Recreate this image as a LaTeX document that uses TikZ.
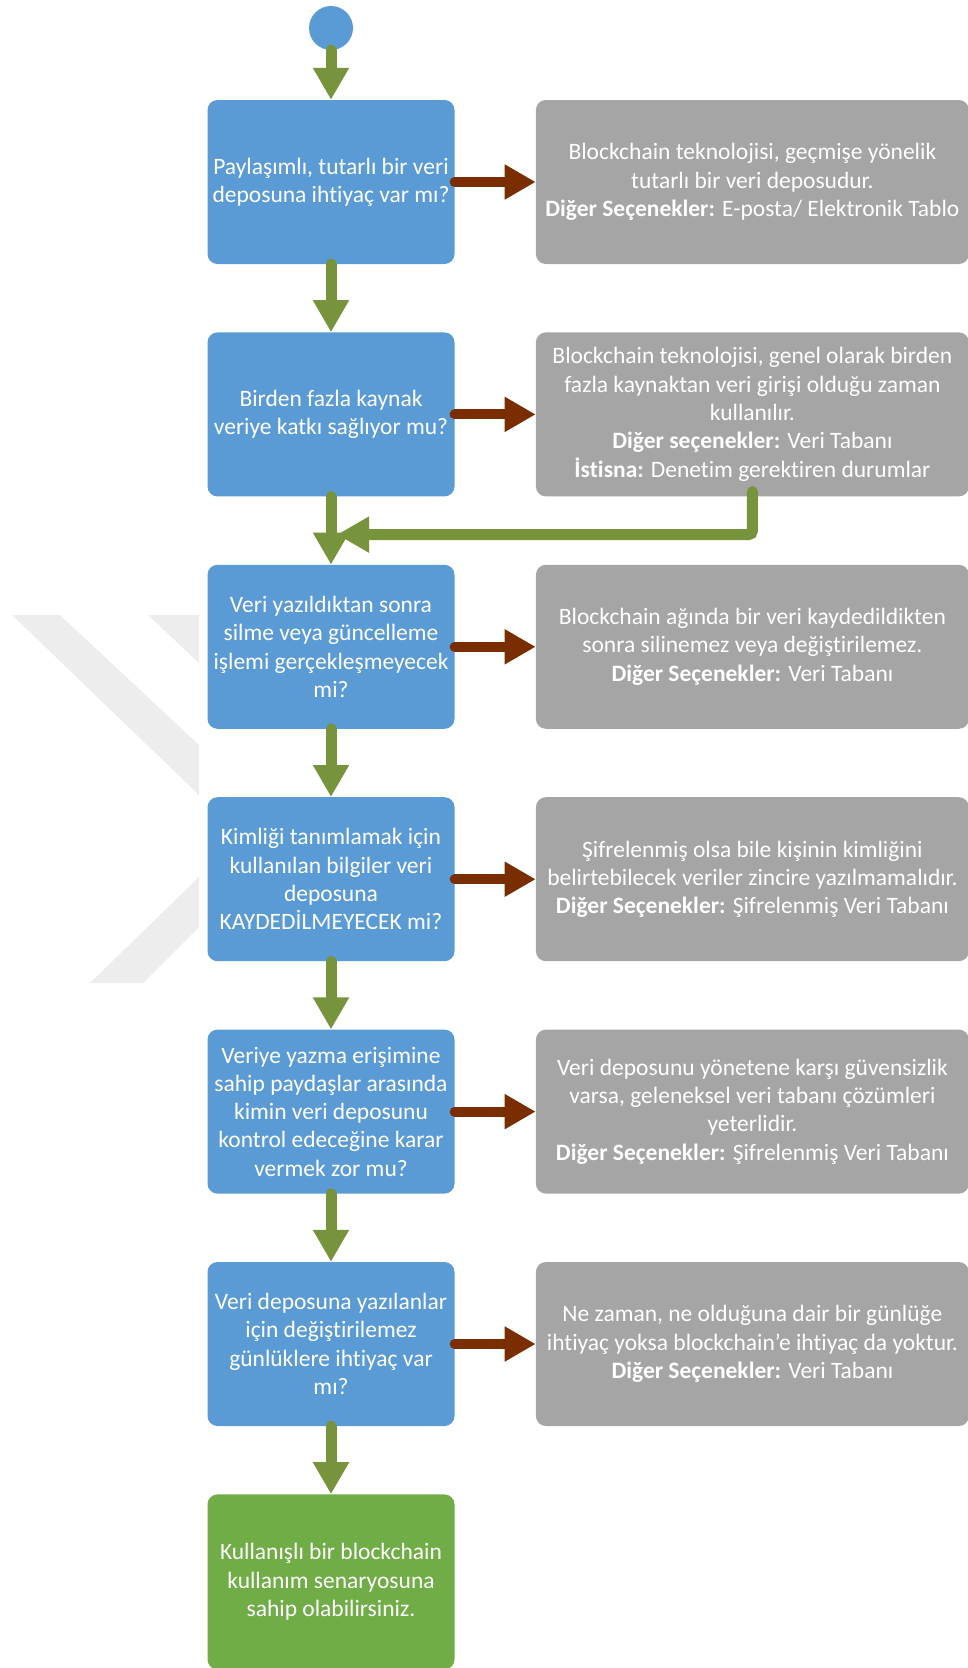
\documentclass[tikz,border=0pt]{standalone}
\usepackage{fontspec}
\setmainfont{Carlito}[Ligatures=NoCommon]
\usetikzlibrary{positioning,arrows.meta}

\definecolor{qblue}{HTML}{5B9BD5}
\definecolor{agray}{HTML}{A5A5A5}
\definecolor{okgreen}{HTML}{70AD47}
\definecolor{arrgreen}{HTML}{77933C}
\definecolor{arrbrown}{HTML}{7A2E00}

\begin{document}
\begin{tikzpicture}[x=1pt,y=1pt,
  node distance=68pt and 81pt,
  every node/.style={font=\fontsize{23.5pt}{28.3pt}\selectfont, text=white, align=center},
  question/.style={fill=qblue, rounded corners=10pt, minimum width=247pt, minimum height=164pt, inner sep=1pt},
  answer/.style={fill=agray, rounded corners=10pt, minimum width=433pt, minimum height=164pt, inner sep=1pt},
  finish/.style={question, fill=okgreen, minimum height=175pt},
  yesarrow/.style={line width=11pt, draw=arrgreen, line cap=round, -{Triangle[length=32pt,width=34pt]}},
  noarrow/.style={line width=10pt, draw=arrbrown, line cap=round, -{Triangle[length=31pt,width=33pt]}},
  wmark/.style={fill=black!7}]
\useasboundingbox (0,0) rectangle (968,-1668);

% watermark
\fill[wmark] (12,-615) -- (60,-615) -- (199,-745) -- (199,-795) -- cycle;
\fill[wmark] (148,-615) -- (199,-615) -- (199,-663) -- cycle;
\fill[wmark] (199,-877) -- (90,-983) -- (143,-983) -- (199,-927) -- cycle;

\node[circle, fill=qblue, minimum size=44pt, inner sep=0pt] (start) at (331,-28) {};

\node[question] (q1) at (331,-182) {Paylaşımlı, tutarlı bir veri\\deposuna ihtiyaç var mı?};
\node[question, below=of q1] (q2) {Birden fazla kaynak\\veriye katkı sağlıyor mu?};
\node[question, below=of q2] (q3) {Veri yazıldıktan sonra\\silme veya güncelleme\\işlemi gerçekleşmeyecek\\mi?};
\node[question, below=of q3] (q4) {Kimliği tanımlamak için\\kullanılan bilgiler veri\\deposuna\\KAYDEDİLMEYECEK mi?};
\node[question, below=of q4] (q5) {Veriye yazma erişimine\\sahip paydaşlar arasında\\kimin veri deposunu\\kontrol edeceğine karar\\vermek zor mu?};
\node[question, below=of q5] (q6) {Veri deposuna yazılanlar\\için değiştirilemez\\günlüklere ihtiyaç var\\mı?};
\node[finish, below=of q6] (done) {Kullanışlı bir blockchain\\kullanım senaryosuna\\sahip olabilirsiniz.};

\node[answer, right=of q1] (a1) {Blockchain teknolojisi, geçmişe yönelik\\tutarlı bir veri deposudur.\\\textbf{Diğer Seçenekler:} E-posta/ Elektronik Tablo};
\node[answer, right=of q2] (a2) {Blockchain teknolojisi, genel olarak birden\\fazla kaynaktan veri girişi olduğu zaman\\kullanılır.\\\textbf{Diğer seçenekler:} Veri Tabanı\\\textbf{İstisna:} Denetim gerektiren durumlar};
\node[answer, right=of q3] (a3) {Blockchain ağında bir veri kaydedildikten\\sonra silinemez veya değiştirilemez.\\\textbf{Diğer Seçenekler:} Veri Tabanı};
\node[answer, right=of q4] (a4) {Şifrelenmiş olsa bile kişinin kimliğini\\belirtebilecek veriler zincire yazılmamalıdır.\\\textbf{Diğer Seçenekler:} Şifrelenmiş Veri Tabanı};
\node[answer, right=of q5] (a5) {Veri deposunu yönetene karşı güvensizlik\\varsa, geleneksel veri tabanı çözümleri\\yeterlidir.\\\textbf{Diğer Seçenekler:} Şifrelenmiş Veri Tabanı};
\node[answer, right=of q6] (a6) {Ne zaman, ne olduğuna dair bir günlüğe\\ihtiyaç yoksa blockchain’e ihtiyaç da yoktur.\\\textbf{Diğer Seçenekler:} Veri Tabanı};

\coordinate[below=38pt of q2.south, xshift=6pt] (back);

% yes path
\draw[yesarrow] (start) -- (q1);
\draw[yesarrow] (q1) -- (q2);
\draw[yesarrow] (q2) -- (q3);
\draw[yesarrow] (q3) -- (q4);
\draw[yesarrow] (q4) -- (q5);
\draw[yesarrow] (q5) -- (q6);
\draw[yesarrow] (q6) -- (done);
\draw[yesarrow, rounded corners=4pt] ([yshift=5pt]a2.south) |- (back);

% no path
\foreach \i in {1,...,6}
  \draw[noarrow] (q\i) -- (a\i);
\end{tikzpicture}
\end{document}
